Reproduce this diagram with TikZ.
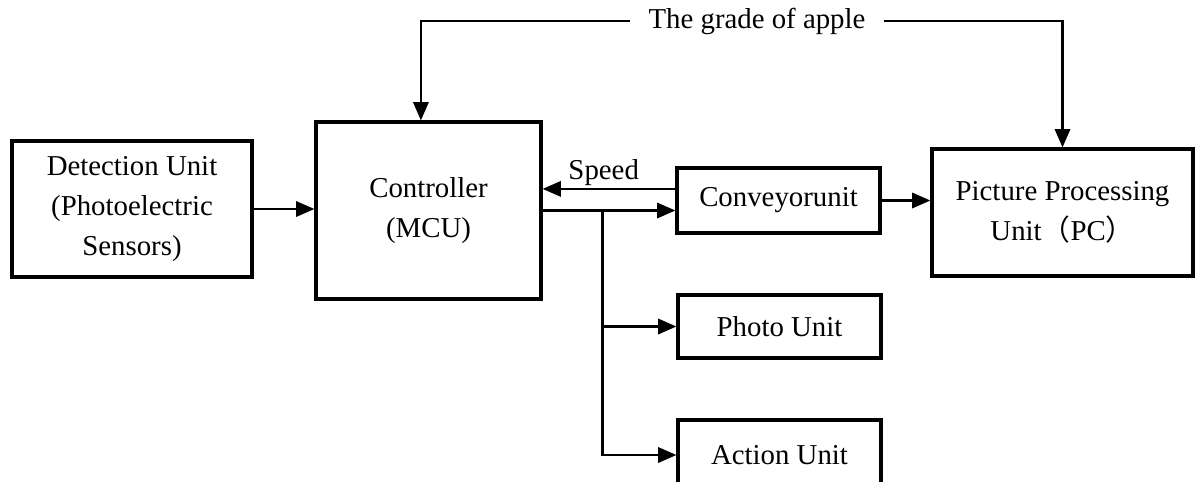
\documentclass[tikz,border=0pt]{standalone}
\usepackage{fontspec}
\setmainfont{Liberation Serif}
\newfontfamily\cjk{Noto Sans CJK SC}
\usepackage{tikz}
\usetikzlibrary{arrows.meta,positioning,calc}
\newcommand{\unitfont}{\fontsize{20.5pt}{28.5pt}\selectfont}
\tikzset{
  box/.style={draw=black, line width=2.2pt, align=center, inner sep=2pt, font=\unitfont},
  arrow/.style={-{Triangle[length=4.6mm,width=3.8mm]}, line width=2pt, draw=black},
  tag/.style={font=\unitfont, inner sep=2pt}
}

\begin{document}
\begin{tikzpicture}
\useasboundingbox (0,0) rectangle (29.975,-12.025);

% Units
\node[box, minimum width=6.0cm, minimum height=3.4cm] (detect) at (3.30,-5.225) {Detection Unit\\(Photoelectric\\Sensors)};
\node[box, minimum width=5.625cm, minimum height=4.425cm] (mcu) at (10.7125,-5.2625) {Controller\\(MCU)};
\node[box, minimum width=5.075cm, minimum height=1.625cm] (conveyor) at (19.4625,-5.0125) {Conveyorunit};
\node[box, minimum width=6.525cm, minimum height=3.175cm] (pc) at (26.5625,-5.3125) {Picture Processing\\Unit{\cjk （}PC{\cjk ）}};
\node[box, minimum width=5.075cm, minimum height=1.575cm] (photo) at (19.4875,-8.1625) {Photo Unit};
\node[box, minimum width=5.075cm, minimum height=1.75cm] (action) at (19.4875,-11.375) {Action Unit};

% Grade feedback
\node[tag, inner xsep=0.45cm] (grade) at (18.925,-0.525) {The grade of apple};
\coordinate (mcuin) at ($(mcu.north)+(-0.19,0)$);
\draw[arrow] (grade.west) -| (mcuin);
\draw[arrow] (grade.east) -| (pc.north);

% Signals
\draw[arrow] (detect.east) -- (detect.east -| mcu.west);
\coordinate (speedout) at ($(conveyor.west)+(0,0.29)$);
\draw[arrow] (speedout) -- node[tag, pos=0.54, above=-1pt] {Speed} (speedout -| mcu.east);
\draw[arrow] (mcu.east) -- (mcu.east -| conveyor.west);
\coordinate (split) at ($(mcu.east)+(1.5,0)$);
\draw[arrow] (split) |- (photo.west);
\draw[arrow] (split) |- (action.west);
\draw[arrow] (conveyor.east) -- (conveyor.east -| pc.west);
\end{tikzpicture}
\end{document}
